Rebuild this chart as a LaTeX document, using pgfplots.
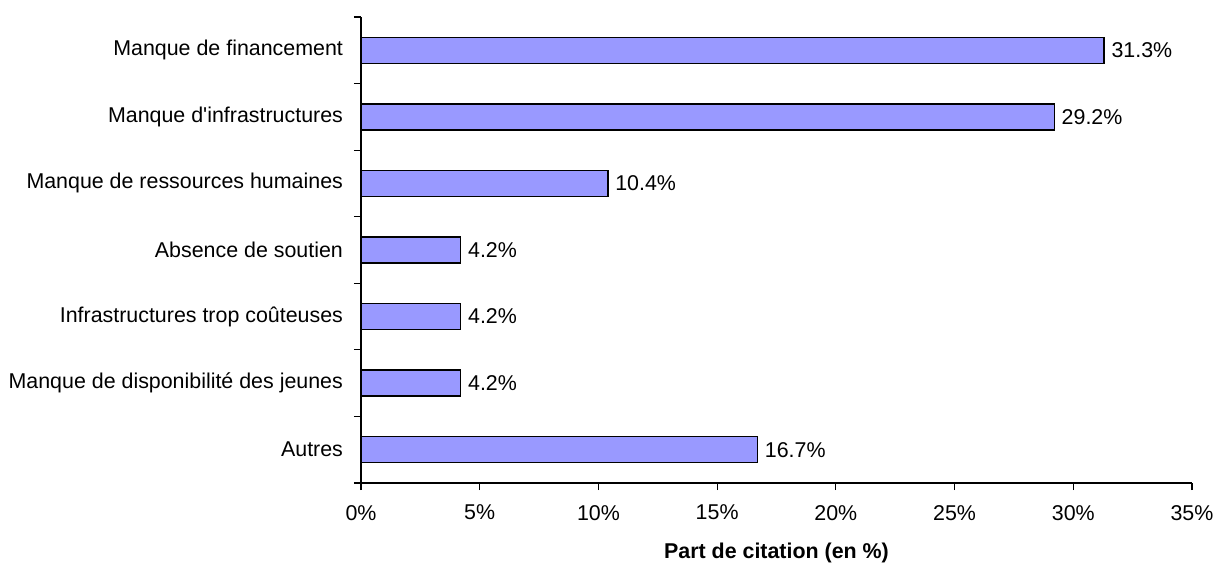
\documentclass[border=0pt]{standalone}
\usepackage{fontspec}
\setmainfont{Liberation Sans}
\usepackage{pgfplots}
\pgfplotsset{compat=1.18}
\definecolor{barfill}{HTML}{9999FF}
\newcommand{\fsz}{\fontsize{10.7}{12.8}\selectfont}
\begin{document}
\begin{tikzpicture}
\useasboundingbox (-180.5pt,-42.5pt) rectangle (427pt,241.5pt);
\begin{axis}[
  scale only axis,
  width=415.5pt, height=233pt,
  xbar, bar width=13pt,
  xmin=0, xmax=35,
  ymin=0.5, ymax=7.5,
  axis x line*=bottom, axis y line*=left,
  axis line style={-, black, line width=0.6pt},
  xtick={0,5,...,35},
  xticklabels={0\%,5\%,10\%,15\%,20\%,25\%,30\%,35\%},
  ytick={1,...,7},
  yticklabels={Autres,Manque de disponibilité des jeunes,Infrastructures trop coûteuses,Absence de soutien,Manque de ressources humaines,Manque d\textquotesingle infrastructures,Manque de financement},
  minor ytick={0.5,1.5,...,7.5},
  tick align=outside,
  major tick length=3.5pt, minor tick length=3.5pt,
  every tick/.style={black, line width=0.6pt},
  every major y tick/.append style={draw=none},
  tick label style={font=\fsz, black},
  xticklabel style={yshift=-4pt},
  yticklabel style={xshift=-2pt},
  xlabel={Part de citation (en \%)},
  xlabel style={font=\fsz\bfseries, yshift=-4.5pt},
  point meta=explicit symbolic,
  nodes near coords,
  nodes near coords style={font=\fsz, black, anchor=west, xshift=0pt},
  clip=false,
]
\addplot[draw=black, line width=0.75pt, fill=barfill] coordinates {
  (16.7,1) [16.7\%]
  (4.2,2) [4.2\%]
  (4.2,3) [4.2\%]
  (4.2,4) [4.2\%]
  (10.4,5) [10.4\%]
  (29.2,6) [29.2\%]
  (31.3,7) [31.3\%]
};
\end{axis}
\end{tikzpicture}
\end{document}
